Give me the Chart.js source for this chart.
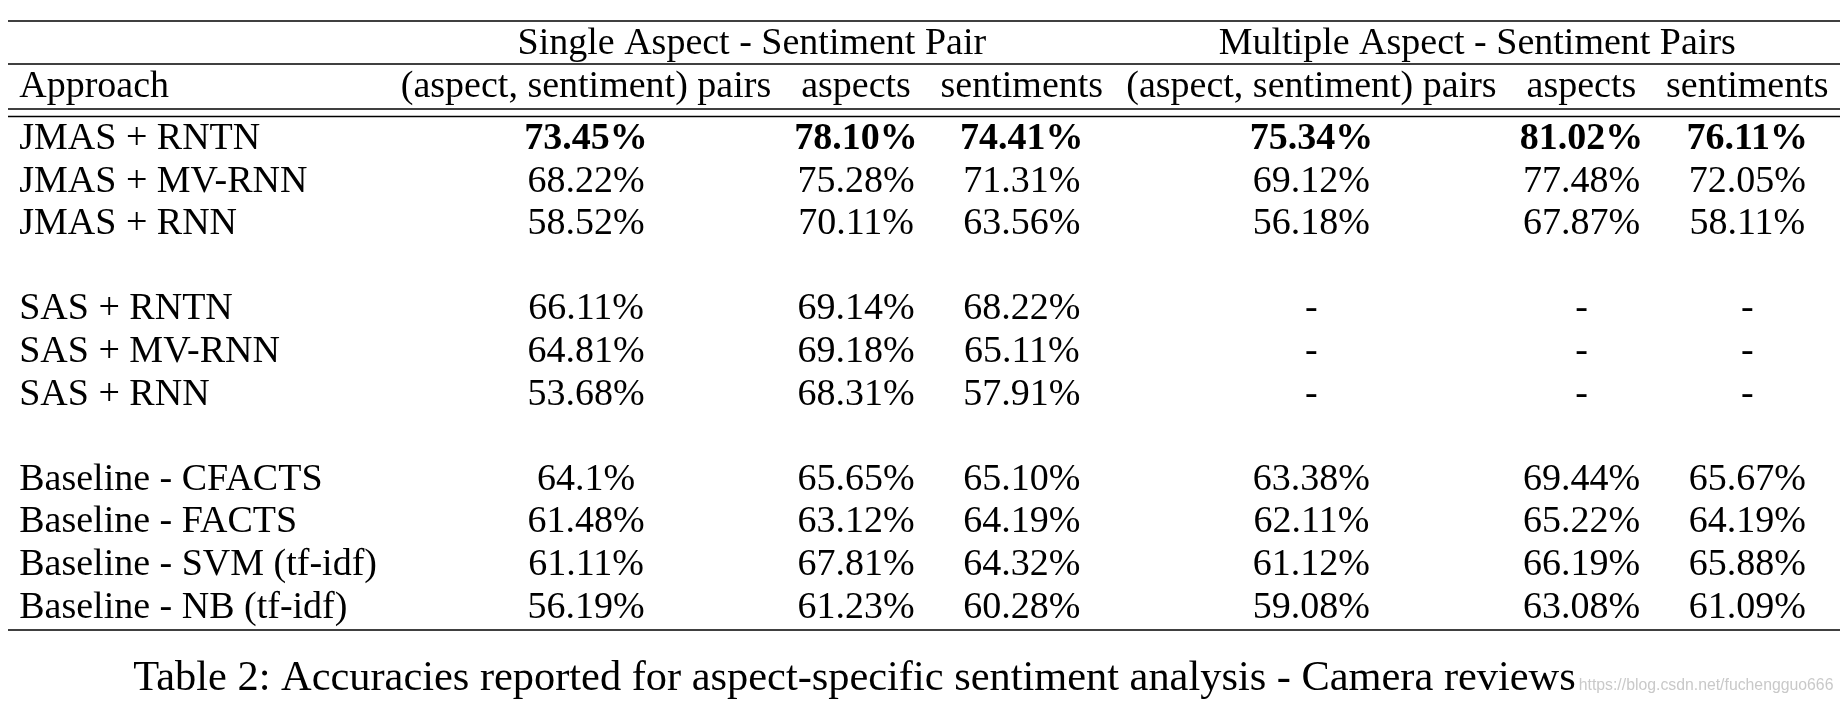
<!DOCTYPE html>
<html><head><meta charset="utf-8">
<script src="https://cdn.jsdelivr.net/npm/chart.js@4.4.1/dist/chart.umd.min.js"></script>
<style>html,body{margin:0;padding:0;background:#fff;} canvas{display:block;}</style>
</head><body>
<canvas id="c" width="1840" height="704"></canvas>
<script>
// ---------------- data ----------------
const groupHeaders = ['Single Aspect - Sentiment Pair', 'Multiple Aspect - Sentiment Pairs'];
const columnHeaders = ['Approach', '(aspect, sentiment) pairs', 'aspects', 'sentiments', '(aspect, sentiment) pairs', 'aspects', 'sentiments'];
const approaches = ['JMAS + RNTN', 'JMAS + MV-RNN', 'JMAS + RNN',
  'SAS + RNTN', 'SAS + MV-RNN', 'SAS + RNN',
  'Baseline - CFACTS', 'Baseline - FACTS', 'Baseline - SVM (tf-idf)', 'Baseline - NB (tf-idf)'];
const blockSizes = [3, 3, 4];
const singlePairs      = ['73.45', '68.22', '58.52', '66.11', '64.81', '53.68', '64.1',  '61.48', '61.11', '56.19'];
const singleAspects    = ['78.10', '75.28', '70.11', '69.14', '69.18', '68.31', '65.65', '63.12', '67.81', '61.23'];
const singleSentiments = ['74.41', '71.31', '63.56', '68.22', '65.11', '57.91', '65.10', '64.19', '64.32', '60.28'];
const multiPairs       = ['75.34', '69.12', '56.18', null, null, null, '63.38', '62.11', '61.12', '59.08'];
const multiAspects     = ['81.02', '77.48', '67.87', null, null, null, '69.44', '65.22', '66.19', '63.08'];
const multiSentiments  = ['76.11', '72.05', '58.11', null, null, null, '65.67', '64.19', '65.88', '61.09'];
const caption = 'Table 2: Accuracies reported for aspect-specific sentiment analysis - Camera reviews';
const watermark = 'https://blog.csdn.net/fuchengguo666';

// ---------------- layout / style ----------------
const FAMILY = '"Liberation Serif", "Times New Roman", Times, serif';
const FONT_SIZE = 38;
const CAPTION_SIZE = 42.4;
const LAYOUT = {
  tableLeft: 8, colPad: 11.2,
  topRule: 21, groupY: 44, groupRule: 64, headerY: 87.5, headRule1: 109, headRule2: 116.5,
  firstRowY: 139, rowPitch: 42.6, bottomRule: 630,
  captionLeft: 125, captionY: 679, watermarkY: 690, ruleWidth: 1.6
};

const mctx = document.createElement('canvas').getContext('2d');
const fontStr = (bold, size) => (bold ? 'bold ' : '') + size + 'px ' + FAMILY;
function textWidth(t, bold) { mctx.font = fontStr(bold, FONT_SIZE); return mctx.measureText(t).width; }

const valueColumns = [singlePairs, singleAspects, singleSentiments, multiPairs, multiAspects, multiSentiments];
const bestIdx = valueColumns.map(col => {
  let b = -1, bv = -Infinity;
  col.forEach((v, i) => { if (v !== null && parseFloat(v) > bv) { bv = parseFloat(v); b = i; } });
  return b;
});
const cellText = v => v === null ? '-' : v + '%';

const colWidths = columnHeaders.map((h, c) => {
  let w = textWidth(h, false);
  if (c === 0) approaches.forEach(a => { w = Math.max(w, textWidth(a, false)); });
  else valueColumns[c - 1].forEach((v, i) => { w = Math.max(w, textWidth(cellText(v), i === bestIdx[c - 1])); });
  return w + 2 * LAYOUT.colPad;
});
const colLefts = []; let acc = 0;
colWidths.forEach(w => { colLefts.push(acc); acc += w; });
const tableWidth = acc;
const colCenter = c => colLefts[c] + colWidths[c] / 2;

// row positions (one blank slot between blocks)
const rowY = [];
{ let slot = 0; blockSizes.forEach((n, b) => { for (let k = 0; k < n; k++) { rowY.push(LAYOUT.firstRowY + slot * LAYOUT.rowPitch); slot++; } slot++; }); }

// ---------------- cells ----------------
const cells = [];
cells.push({ x: (colLefts[1] + colLefts[3] + colWidths[3]) / 2, y: LAYOUT.groupY, text: groupHeaders[0], align: 'center', bold: false });
cells.push({ x: (colLefts[4] + colLefts[6] + colWidths[6]) / 2, y: LAYOUT.groupY, text: groupHeaders[1], align: 'center', bold: false });
columnHeaders.forEach((h, c) => {
  cells.push({ x: c === 0 ? colLefts[0] + LAYOUT.colPad : colCenter(c), y: LAYOUT.headerY, text: h, align: c === 0 ? 'left' : 'center', bold: false });
});
approaches.forEach((a, r) => {
  cells.push({ x: colLefts[0] + LAYOUT.colPad, y: rowY[r], text: a, align: 'left', bold: false });
  valueColumns.forEach((col, k) => {
    cells.push({ x: colCenter(k + 1), y: rowY[r], text: cellText(col[r]), align: 'center', bold: r === bestIdx[k] });
  });
});

const tablePlugin = {
  id: 'tablePlugin',
  beforeDatasetsDraw(chart) {
    const { ctx, scales: { x, y } } = chart;
    ctx.save();
    ctx.strokeStyle = '#000';
    ctx.lineWidth = LAYOUT.ruleWidth;
    [LAYOUT.topRule, LAYOUT.groupRule, LAYOUT.headRule1, LAYOUT.headRule2, LAYOUT.bottomRule].forEach(r => {
      const py = y.getPixelForValue(r);
      ctx.beginPath();
      ctx.moveTo(x.getPixelForValue(0), py);
      ctx.lineTo(x.getPixelForValue(tableWidth), py);
      ctx.stroke();
    });
    ctx.restore();
  },
  afterDatasetsDraw(chart) {
    const { ctx, scales: { x, y } } = chart;
    const meta = chart.getDatasetMeta(0);
    const ds = chart.data.datasets[0].data;
    ctx.save();
    ctx.fillStyle = '#000';
    ctx.textBaseline = 'middle';
    meta.data.forEach((el, i) => {
      const d = ds[i];
      ctx.font = fontStr(d.bold, FONT_SIZE);
      ctx.textAlign = d.align;
      ctx.fillText(d.text, el.x, el.y);
    });
    // caption
    ctx.font = fontStr(false, CAPTION_SIZE);
    ctx.textAlign = 'left';
    const cx = x.getPixelForValue(LAYOUT.captionLeft);
    ctx.fillText(caption, cx, y.getPixelForValue(LAYOUT.captionY));
    const cw = ctx.measureText(caption).width;
    ctx.font = '15.8px "Liberation Sans", Arial, sans-serif';
    ctx.fillStyle = '#c9c9c9';
    ctx.textBaseline = 'alphabetic';
    ctx.fillText(watermark, cx + cw + 3, y.getPixelForValue(LAYOUT.watermarkY));
    ctx.restore();
  }
};

new Chart(document.getElementById('c'), {
  type: 'scatter',
  data: { datasets: [{ label: 'cells', data: cells, pointRadius: 0, pointHoverRadius: 0, showLine: false }] },
  options: {
    responsive: false, animation: false, devicePixelRatio: 1, events: [],
    layout: { padding: { left: LAYOUT.tableLeft, right: 0, top: 0, bottom: 0 } },
    scales: {
      x: { type: 'linear', min: 0, max: tableWidth, display: false },
      y: { type: 'linear', min: 0, max: 704, reverse: true, display: false }
    },
    plugins: { legend: { display: false }, tooltip: { enabled: false }, title: { display: false } }
  },
  plugins: [tablePlugin]
});
</script>
</body></html>
